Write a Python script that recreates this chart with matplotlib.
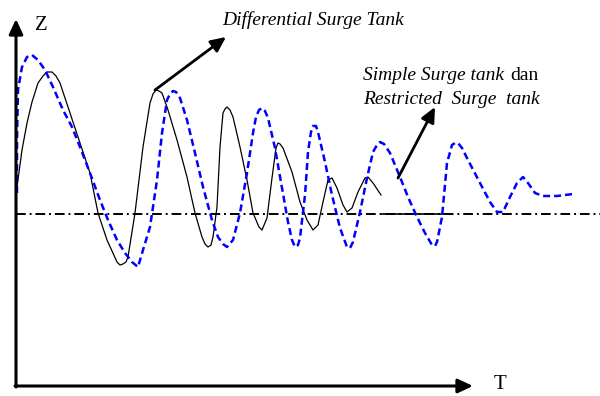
import matplotlib
matplotlib.use("Agg")
import matplotlib.pyplot as plt

# titik-titik kurva (koordinat piksel, y ke bawah)
t_diff = [17, 22, 27, 32, 38, 43, 47, 52, 56, 60, 68, 78, 90, 98, 107, 117, 120, 123, 126, 128,
          135, 143, 150, 153, 156, 159, 162, 168, 177, 187, 195, 202, 205, 208, 211, 213, 217,
          220, 223, 225, 227, 230, 233, 240, 247, 253, 259, 262, 267, 272, 276, 278, 280, 283,
          292, 300, 307, 313, 318, 323, 328, 332, 337, 343, 347, 352, 358, 365, 368, 373, 381]
z_diff = [187, 150, 123, 102, 83, 76, 72, 72, 76, 83, 107, 137, 173, 213, 240, 262, 265, 264, 262, 257,
          213, 147, 103, 94, 90, 91, 93, 110, 140, 177, 213, 237, 244, 247, 245, 237, 207,
          147, 113, 109, 107, 110, 117, 147, 180, 213, 227, 230, 218, 178, 148, 143, 144, 148,
          172, 202, 220, 230, 225, 202, 180, 178, 188, 205, 212, 208, 192, 178, 177, 183, 195]

t_simple = [17, 17, 18, 22, 27, 32, 38, 45, 53, 63, 72, 80, 90, 100, 108, 117, 125, 132, 138,
            143, 150, 157, 162, 167, 170, 173, 176, 180, 187, 195, 203, 212, 218, 223, 227, 233,
            240, 247, 253, 256, 259, 262, 265, 268, 275, 282, 288, 292, 295, 298, 300, 305, 308,
            311, 313, 316, 318, 325, 332, 340, 347, 350, 353, 360, 367, 373, 377, 380, 384, 390,
            400, 408, 417, 425, 432, 435, 437, 442, 447, 452, 455, 458, 462, 468, 480, 490, 497,
            503, 510, 517, 523, 528, 535, 543, 557, 573]
z_simple = [193, 140, 90, 67, 57, 55, 60, 70, 87, 110, 127, 147, 173, 200, 220, 240, 253, 262, 267,
            250, 227, 180, 133, 100, 94, 91, 92, 98, 120, 153, 187, 220, 237, 244, 247, 240,
            213, 173, 133, 117, 110, 108, 111, 118, 148, 188, 222, 240, 247, 245, 238, 195, 152,
            132, 126, 126, 132, 162, 195, 228, 247, 248, 242, 212, 178, 152, 145, 142, 144, 153,
            177, 197, 217, 233, 245, 246, 242, 217, 163, 145, 143, 143, 148, 160, 183, 202, 212,
            212, 197, 183, 177, 183, 193, 196, 196, 194]

z_ref = 214
t_ref = [16, 600]
t_flat = [382, 445]

label_diff = "Differential Surge Tank"
label_simple = "Simple Surge tank"
label_dan = "dan"
label_restr = "Restricted  Surge  tank"

fig = plt.figure(figsize=(6, 3.96), dpi=100)
ax = fig.add_axes([0, 0, 1, 1])
ax.set_xlim(0, 600)
ax.set_ylim(396, 0)
ax.axis("off")

# sumbu Z dan T
head = "-|>,head_length=0.9,head_width=0.42"
ax.annotate("", xy=(16, 19), xytext=(16, 387),
            arrowprops=dict(arrowstyle=head, lw=2.2, color="black", shrinkA=0, shrinkB=0, mutation_scale=10))
ax.annotate("", xy=(473, 386), xytext=(15, 386),
            arrowprops=dict(arrowstyle=head, lw=2.2, color="black", shrinkA=0, shrinkB=0, mutation_scale=10))
ax.text(35, 25, "Z", fontsize=15, family="Liberation Serif", va="center", ha="left")
ax.text(494, 375, "T", fontsize=15, family="Liberation Serif", va="top", ha="left")

# garis acuan
ax.plot(t_ref, [z_ref, z_ref], color="black", lw=1.4, linestyle=(0, (5, 2, 1, 2)))
ax.plot(t_flat, [z_ref, z_ref], color="black", lw=1.2)

# kurva
ax.plot(t_diff, z_diff, color="black", lw=0.9, solid_joinstyle="round")
ax.plot(t_simple, z_simple, color="#0000ff", lw=1.8, linestyle=(0, (2.8, 1.6)))

# label + panah
ax.annotate("", xy=(226, 37), xytext=(155, 90),
            arrowprops=dict(arrowstyle=head, lw=2.0, color="black", shrinkA=0, shrinkB=0, mutation_scale=10))
ax.text(222, 20, label_diff, fontsize=14, family="Liberation Serif", style="italic", va="center", ha="left")

ax.annotate("", xy=(435, 107), xytext=(398, 178),
            arrowprops=dict(arrowstyle=head, lw=2.0, color="black", shrinkA=0, shrinkB=0, mutation_scale=10))
ax.text(363, 76, label_simple, fontsize=14, family="Liberation Serif", style="italic", va="center", ha="left")
ax.text(510, 76, label_dan, fontsize=14, family="Liberation Serif", va="center", ha="left")
ax.text(363, 100, label_restr, fontsize=14, family="Liberation Serif", style="italic", va="center", ha="left")

fig.savefig("out.png", dpi=100)
